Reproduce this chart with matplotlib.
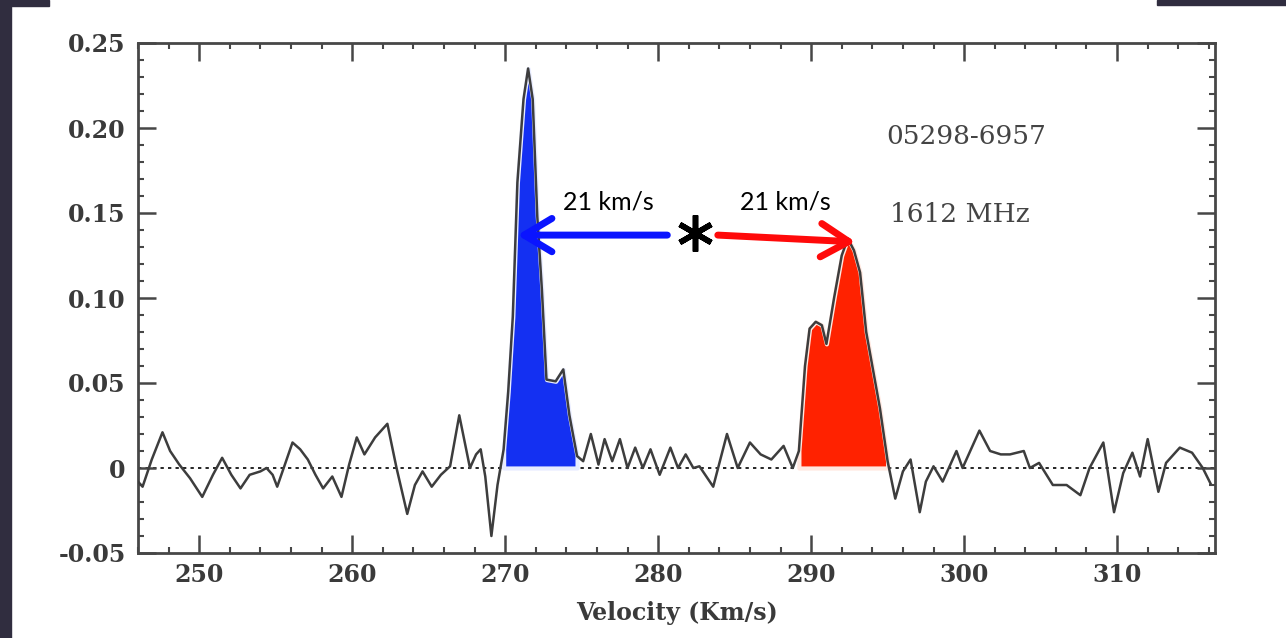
import numpy as np
import matplotlib
matplotlib.use("Agg")
import matplotlib.pyplot as plt
from matplotlib.patches import Rectangle
from matplotlib.ticker import FixedLocator, FixedFormatter, MultipleLocator

# ---- data ----
velocity = [246.0, 246.3, 246.9, 247.6, 248.1, 248.7, 249.4, 250.2, 250.9, 251.5,
            252.1, 252.7, 253.3, 254.0, 254.4, 254.8, 255.1, 255.6, 256.1, 256.6,
            257.1, 257.6, 258.1, 258.7, 259.3, 259.8, 260.3, 260.8, 261.5, 262.3,
            262.9, 263.6, 264.1, 264.6, 265.2, 265.8, 266.4, 267.0, 267.7, 268.1,
            268.4, 268.7, 269.1, 269.5, 269.9, 270.2, 270.5, 270.8, 271.2, 271.5,
            271.8, 272.1, 272.4, 272.7, 273.3, 273.8, 274.2, 274.7, 275.1, 275.6,
            276.1, 276.5, 277.0, 277.5, 278.0, 278.5, 279.0, 279.5, 280.1, 280.8,
            281.3, 281.8, 282.3, 282.7, 283.6, 284.5, 285.2, 286.0, 286.7, 287.4,
            288.2, 288.8, 289.2, 289.6, 289.9, 290.3, 290.7, 291.0, 291.5, 292.0,
            292.4, 292.8, 293.2, 293.6, 294.0, 294.5, 295.0, 295.5, 296.0, 296.5,
            297.1, 297.5, 298.0, 298.6, 299.5, 299.9, 300.4, 301.0, 301.7, 302.4,
            303.0, 303.9, 304.3, 304.9, 305.8, 306.7, 307.6, 308.2, 309.1, 309.8,
            310.4, 311.0, 311.5, 312.0, 312.7, 313.2, 314.1, 314.9, 315.6, 316.1]
flux = [-0.008, -0.011, 0.005, 0.021, 0.010, 0.002, -0.006, -0.017, -0.004, 0.006,
        -0.004, -0.012, -0.004, -0.002, 0.000, -0.004, -0.011, 0.002, 0.015, 0.011,
        0.005, -0.004, -0.012, -0.005, -0.017, 0.002, 0.018, 0.008, 0.018, 0.026,
        0.000, -0.027, -0.010, -0.002, -0.011, -0.004, 0.001, 0.031, 0.000, 0.008,
        0.011, -0.005, -0.040, -0.010, 0.011, 0.045, 0.089, 0.168, 0.217, 0.235,
        0.217, 0.148, 0.105, 0.052, 0.051, 0.058, 0.031, 0.007, 0.004, 0.020,
        0.002, 0.017, 0.004, 0.017, 0.000, 0.012, 0.000, 0.011, -0.004, 0.012,
        0.000, 0.008, 0.000, 0.001, -0.011, 0.020, 0.000, 0.015, 0.008, 0.005,
        0.013, 0.000, 0.010, 0.060, 0.082, 0.086, 0.084, 0.073, 0.100, 0.125,
        0.135, 0.128, 0.115, 0.080, 0.060, 0.035, 0.004, -0.018, -0.002, 0.005,
        -0.026, -0.008, 0.001, -0.008, 0.010, 0.000, 0.010, 0.022, 0.010, 0.008,
        0.008, 0.010, 0.000, 0.003, -0.010, -0.010, -0.016, 0.000, 0.015, -0.026,
        -0.003, 0.009, -0.005, 0.017, -0.014, 0.003, 0.012, 0.009, 0.000, -0.009]

blue_range = (269.9, 274.7)
red_range = (289.2, 295.0)

x_ticks = [250, 260, 270, 280, 290, 300, 310]
x_tick_labels = ["250", "260", "270", "280", "290", "300", "310"]
y_ticks = [-0.05, 0.0, 0.05, 0.10, 0.15, 0.20, 0.25]
y_tick_labels = ["-0.05", "0", "0.05", "0.10", "0.15", "0.20", "0.25"]

source_name = "05298-6957"
frequency_label = "1612 MHz"
speed_label = "21 km/s"
x_label = "Velocity (Km/s)"

# annotation anchors (data units)
star_pos = (282.4, 0.1385)
blue_arrow = ((280.6, 0.137), (270.8, 0.137))
red_arrow = ((283.9, 0.137), (292.9, 0.133))

# ---- figure ----
W, H = 1286, 638
fig = plt.figure(figsize=(W / 100, H / 100), dpi=100, facecolor="white")
dark = "#302d3f"
fig.patches.append(Rectangle((0, 0), 11 / W, 1, transform=fig.transFigure, color=dark, zorder=0))
fig.patches.append(Rectangle((0, 1 - 6 / H), 49 / W, 6 / H, transform=fig.transFigure, color=dark, zorder=0))
fig.patches.append(Rectangle((1157 / W, 1 - 5 / H), (W - 1157) / W, 5 / H, transform=fig.transFigure, color=dark, zorder=0))

ax = fig.add_axes([138 / W, 85 / H, (1215 - 138) / W, (553 - 43) / H])
ax.set_xlim(246.0, 316.4)
ax.set_ylim(-0.05, 0.25)

v = np.array(velocity)
f = np.array(flux)

ax.axhline(0, color="black", lw=1.2, ls=(0, (2, 2.5)), zorder=1)

mb = (v >= blue_range[0]) & (v <= blue_range[1])
mr = (v >= red_range[0]) & (v <= red_range[1])
ax.fill_between(v, 0, f, where=mb, color="#1430f2", edgecolor="#e8ecff", lw=3.0, zorder=2)
ax.fill_between(v, 0, f, where=mr, color="#ff2200", edgecolor="#ffe8e0", lw=3.0, zorder=2)
ax.plot(v, f, color="#3d3d3d", lw=1.8, zorder=3)

spine_c = "#474747"
for s in ax.spines.values():
    s.set_linewidth(2.0)
    s.set_color(spine_c)

ax.xaxis.set_major_locator(FixedLocator(x_ticks))
ax.xaxis.set_major_formatter(FixedFormatter(x_tick_labels))
ax.xaxis.set_minor_locator(MultipleLocator(2))
ax.yaxis.set_major_locator(FixedLocator(y_ticks))
ax.yaxis.set_major_formatter(FixedFormatter(y_tick_labels))
ax.yaxis.set_minor_locator(MultipleLocator(0.01))

ax.tick_params(which="both", direction="in", top=True, right=True, color=spine_c)
ax.tick_params(which="major", length=13, width=1.8)
ax.tick_params(which="minor", length=4, width=1.5)
ax.tick_params(axis="y", which="major", pad=9)
ax.tick_params(axis="x", which="major", pad=7)

for lab in ax.get_xticklabels() + ax.get_yticklabels():
    lab.set_fontfamily("DejaVu Serif")
    lab.set_fontweight("bold")
    lab.set_fontsize(17)
    lab.set_color("#3a3a3a")

ax.set_xlabel(x_label, fontfamily="DejaVu Serif", fontweight="bold", fontsize=17,
              color="#3a3a3a", labelpad=10)


def px(x, y):
    """reference pixel position (from top-left) to display coords"""
    return (x, H - y)


ax.text(*px(886, 137), source_name, transform=None, fontfamily="DejaVu Serif",
        fontsize=19, color="#444444", va="center", ha="left")
ax.text(*px(890, 215), frequency_label, transform=None, fontfamily="DejaVu Serif",
        fontsize=19, color="#444444", va="center", ha="left")

ax.text(*px(608, 202), speed_label, transform=None, fontfamily="Lato", fontsize=18,
        color="black", ha="center", va="center")
ax.text(*px(785, 202), speed_label, transform=None, fontfamily="Lato", fontsize=18,
        color="black", ha="center", va="center")

ax.plot([star_pos[0]], [star_pos[1]], marker=(6, 2, 0), markersize=26,
        markeredgewidth=4.0, color="black", zorder=6, clip_on=False)

for (start, end), col in ((blue_arrow, "#0a14ff"), (red_arrow, "#ff0a0a")):
    ax.annotate("", xy=end, xytext=start,
                arrowprops=dict(arrowstyle="->,head_length=1.0,head_width=0.6",
                                color=col, lw=5, mutation_scale=20,
                                shrinkA=0, shrinkB=0, capstyle="round",
                                joinstyle="round"),
                zorder=5)

fig.savefig("out.png", dpi=100, facecolor=fig.get_facecolor())
